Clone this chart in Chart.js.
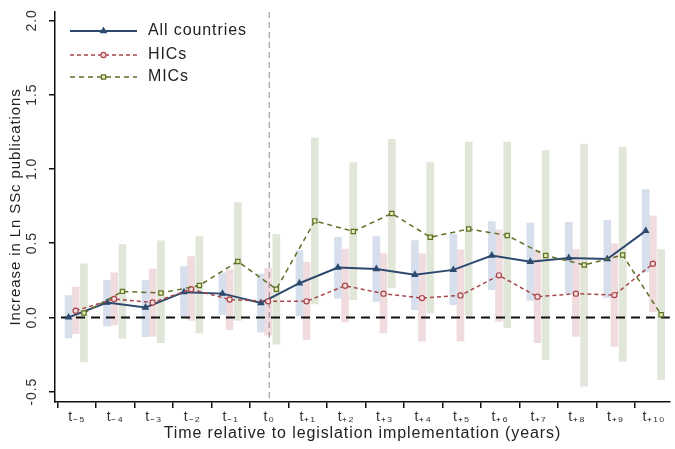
<!DOCTYPE html>
<html>
<head>
<meta charset="utf-8">
<script src="https://cdn.jsdelivr.net/npm/chart.js@4.4.1/dist/chart.umd.min.js"></script>
<style>
html,body{margin:0;padding:0;background:#fff;}
#wrap{width:675px;height:449px;}
</style>
</head>
<body>
<div id="wrap"><canvas id="c" width="675" height="449"></canvas></div>
<script>
// ---- data ----
const periods = [-5,-4,-3,-2,-1,0,1,2,3,4,5,6,7,8,9,10];
const xLabels = ['t\u208B\u2085','t\u208B\u2084','t\u208B\u2083','t\u208B\u2082','t\u208B\u2081','t\u2080','t\u208A\u2081','t\u208A\u2082','t\u208A\u2083','t\u208A\u2084','t\u208A\u2085','t\u208A\u2086','t\u208A\u2087','t\u208A\u2088','t\u208A\u2089','t\u208A\u2081\u2080'];
const yTicks = [-0.5,0,0.5,1.0,1.5,2.0];

const allEst = [0.00,0.10,0.067,0.17,0.16,0.097,0.23,0.336,0.326,0.287,0.32,0.417,0.375,0.40,0.393,0.583];
const allLo  = [-0.139,-0.06,-0.13,0.00,0.02,-0.10,0.01,0.13,0.108,0.052,0.085,0.186,0.115,0.16,0.133,0.306];
const allHi  = [0.146,0.25,0.25,0.343,0.30,0.294,0.45,0.54,0.545,0.518,0.56,0.646,0.635,0.64,0.653,0.86];

const hicEst = [0.045,0.124,0.10,0.19,0.12,0.108,0.108,0.213,0.16,0.13,0.148,0.283,0.139,0.16,0.15,0.361];
const hicLo  = [-0.11,-0.05,-0.126,-0.02,-0.083,-0.12,-0.15,-0.03,-0.105,-0.16,-0.16,-0.027,-0.17,-0.128,-0.195,0.038];
const hicHi  = [0.204,0.30,0.326,0.41,0.32,0.33,0.37,0.46,0.43,0.43,0.456,0.59,0.45,0.456,0.495,0.684];

const micEst = [0.03,0.175,0.164,0.215,0.377,0.19,0.65,0.579,0.70,0.54,0.595,0.552,0.417,0.353,0.42,0.018];
const micLo  = [-0.30,-0.14,-0.17,-0.105,-0.02,-0.18,0.09,0.12,0.20,0.03,0.01,-0.07,-0.285,-0.464,-0.296,-0.42];
const micHi  = [0.36,0.49,0.516,0.545,0.774,0.56,1.207,1.043,1.2,1.043,1.18,1.18,1.124,1.167,1.147,0.456];

const seriesNames = ['All countries','HICs','MICs'];
const yTitle = 'Increase in Ln SSc publications';
const xTitle = 'Time relative to legislation implementation (years)';

// ---- styling ----
const FONT = '"Liberation Sans", Arial, sans-serif';
const SPACING = '0.9px';
const offs = [-0.215, -0.03, 0.185];
const lineCol = ['#2d4a6e', '#a8474b', '#5f6f26'];
const barCol = ['#d7dfed', '#f0dcdf', '#e0e6d8'];
const dashes = [[], [4,3], [5,4]];
const styles = ['triangle', 'circle', 'rect'];
const fills = ['#2d4a6e', '#f3d9d9', '#e6eeb8'];
const radii = [3.2, 2.6, 3];

function pts(est, k){ return periods.map((p,i)=>({x:p+offs[k], y:est[i]})); }
function bars(lo, hi, k){ return periods.map((p,i)=>({x:p+offs[k], y:[lo[i], hi[i]]})); }

const ests = [allEst, hicEst, micEst], los=[allLo,hicLo,micLo], his=[allHi,hicHi,micHi];
const datasets = [];
for (let k=0;k<3;k++){
  datasets.push({
    type:'bar', label: seriesNames[k]+' CI', data: bars(los[k], his[k], k),
    backgroundColor: barCol[k], borderWidth:0, barThickness:7, grouped:false, order: 10+k
  });
}
for (let k=0;k<3;k++){
  datasets.push({
    type:'line', label: seriesNames[k], data: pts(ests[k], k),
    borderColor: lineCol[k], borderWidth: k===0?2:1.5, borderDash: dashes[k],
    pointStyle: styles[k], pointRadius: radii[k], pointBackgroundColor: fills[k],
    pointBorderColor: lineCol[k], pointBorderWidth: 1.2, tension:0, fill:false, order: 3-k
  });
}

const spacingPlugin = {
  id:'spacing',
  beforeLayout(chart){ chart.ctx.letterSpacing = SPACING; },
  beforeDraw(chart){ chart.ctx.letterSpacing = SPACING; }
};

const refLines = {
  id:'refLines',
  beforeDatasetsDraw(){ this._done=false; },
  beforeDatasetDraw(chart, args){
    if (this._done || args.meta.type !== 'line') return;
    this._done = true;
    const ctx = chart.ctx, a = chart.chartArea, xs = chart.scales.x, ys = chart.scales.y;
    ctx.save();
    const x0 = xs.getPixelForValue(0);
    ctx.strokeStyle = '#8a8a8a'; ctx.lineWidth = 1; ctx.setLineDash([6,4]);
    ctx.beginPath(); ctx.moveTo(x0, a.top); ctx.lineTo(x0, a.bottom); ctx.stroke();
    const y0 = ys.getPixelForValue(0);
    ctx.strokeStyle = '#111'; ctx.lineWidth = 2; ctx.setLineDash([9,6]);
    ctx.beginPath(); ctx.moveTo(a.left+6, y0); ctx.lineTo(a.right, y0); ctx.stroke();
    ctx.restore();
  }
};

const legendPlugin = {
  id:'customLegend',
  afterDraw(chart){
    const ctx = chart.ctx;
    const ys = [31, 55, 77];
    ctx.save();
    ctx.letterSpacing = SPACING;
    for (let k=0;k<3;k++){
      const y = ys[k];
      ctx.strokeStyle = lineCol[k]; ctx.lineWidth = k===0?2:1.5; ctx.setLineDash(dashes[k]);
      ctx.beginPath(); ctx.moveTo(70, y); ctx.lineTo(137, y); ctx.stroke();
      ctx.setLineDash([]);
      ctx.fillStyle = fills[k]; ctx.strokeStyle = lineCol[k]; ctx.lineWidth = 1.2;
      Chart.helpers.drawPoint(ctx, {pointStyle: styles[k], radius: radii[k], rotation:0, borderWidth:1.2}, 103.5, y);
      ctx.fillStyle = '#222'; ctx.font = '16px ' + FONT; ctx.textBaseline='middle'; ctx.textAlign='left';
      ctx.fillText(seriesNames[k], 148, y);
    }
    ctx.restore();
  }
};

new Chart(document.getElementById('c'), {
  type:'bar',
  data:{ datasets },
  options:{
    responsive:false, animation:false,
    layout:{ padding:{ top:12, right:0, left:0, bottom:0 } },
    plugins:{ legend:{display:false}, tooltip:{enabled:false} },
    scales:{
      x:{
        type:'linear', min:-5.567, max:10.41, offset:false,
        afterBuildTicks(s){ s.ticks = periods.map(v=>({value:v})); },
        afterFit(s){ s.height = 47; },
        ticks:{ autoSkip:false, maxRotation:0, minRotation:0, padding:1,
          callback:(v)=> xLabels[periods.indexOf(v)], color:'#333', font:{family:FONT, size:14} },
        grid:{ display:true, drawOnChartArea:false, drawTicks:true, tickLength:6, color:'#111', lineWidth:1.5 },
        border:{ display:true, color:'#111', width:1.5 },
        title:{ display:true, text:xTitle, color:'#222', font:{family:FONT, size:16}, padding:{top:0,bottom:6} }
      },
      y:{
        type:'linear', min:-0.57, max:2.057,
        afterBuildTicks(s){ s.ticks = yTicks.map(v=>({value:v})); },
        afterFit(s){ s.width = 55; },
        ticks:{ minRotation:90, maxRotation:90, padding:3, crossAlign:'center', color:'#333', font:{family:FONT, size:14},
          callback:(v)=> Number(v).toFixed(1) },
        grid:{ display:true, drawOnChartArea:false, drawTicks:true, tickLength:6, color:'#111', lineWidth:1.5 },
        border:{ display:true, color:'#111', width:1.5 },
        title:{ display:true, text:yTitle, color:'#222', font:{family:FONT, size:15}, padding:{top:7,bottom:0} }
      }
    }
  },
  plugins:[spacingPlugin, refLines, legendPlugin]
});
</script>
</body>
</html>
